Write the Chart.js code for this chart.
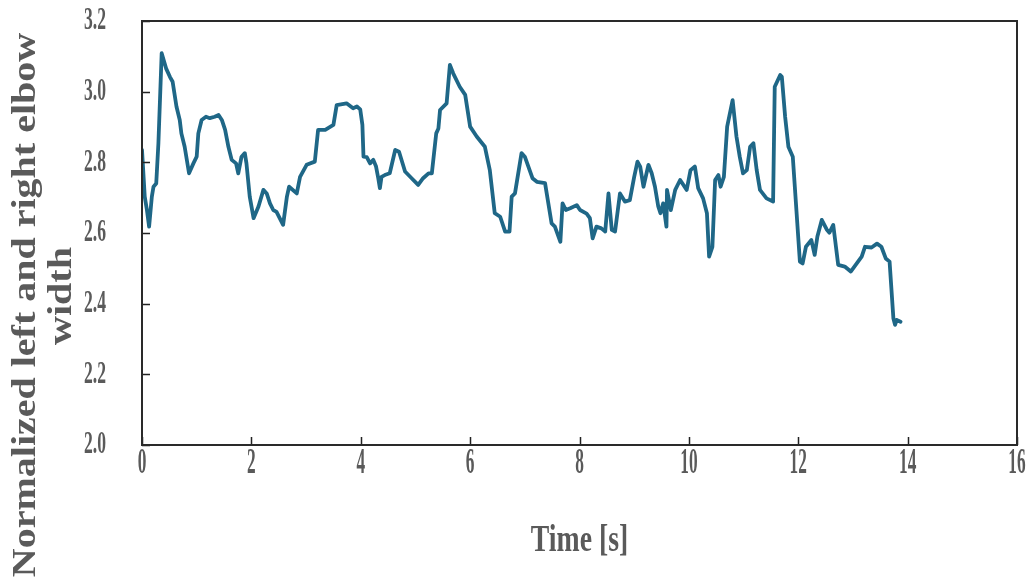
<!DOCTYPE html>
<html>
<head>
<meta charset="utf-8">
<script src="https://cdn.jsdelivr.net/npm/chart.js@4/dist/chart.umd.min.js"></script>
<style>
  html, body { margin: 0; padding: 0; background: #fff; }
  canvas { display: block; }
</style>
</head>
<body>
<canvas id="elbowChart" width="1035" height="584"></canvas>
<script>
// time axis (s) and normalized elbow width
const timeSec = [
  0.00, 0.05, 0.09, 0.13, 0.18, 0.21, 0.26, 0.30, 0.36, 0.44, 0.51, 0.56,
  0.63, 0.69, 0.72, 0.78, 0.86, 0.94, 1.00, 1.03, 1.09, 1.17, 1.24, 1.33,
  1.40, 1.46, 1.52, 1.58, 1.64, 1.72, 1.76, 1.82, 1.88, 1.91, 1.97, 2.04,
  2.13, 2.22, 2.28, 2.34, 2.40, 2.46, 2.58, 2.65, 2.69, 2.83, 2.89, 3.01,
  3.16, 3.22, 3.35, 3.50, 3.56, 3.74, 3.86, 3.93, 3.99, 4.03, 4.05, 4.11,
  4.17, 4.23, 4.28, 4.32, 4.35, 4.38, 4.44, 4.53, 4.63, 4.70, 4.81, 4.93,
  5.05, 5.14, 5.24, 5.30, 5.38, 5.42, 5.45, 5.57, 5.63, 5.69, 5.81, 5.91,
  6.00, 6.12, 6.27, 6.36, 6.45, 6.55, 6.64, 6.72, 6.76, 6.82, 6.94, 7.00,
  7.14, 7.22, 7.37, 7.49, 7.55, 7.65, 7.69, 7.75, 7.83, 7.95, 8.01, 8.13,
  8.19, 8.24, 8.31, 8.40, 8.47, 8.53, 8.59, 8.65, 8.74, 8.83, 8.92, 9.00,
  9.06, 9.11, 9.17, 9.26, 9.32, 9.38, 9.44, 9.48, 9.53, 9.59, 9.60, 9.67,
  9.75, 9.84, 9.96, 10.03, 10.11, 10.17, 10.26, 10.33, 10.37, 10.43, 10.48, 10.54,
  10.58, 10.64, 10.70, 10.80, 10.87, 10.93, 10.99, 11.06, 11.12, 11.18, 11.24, 11.30,
  11.42, 11.54, 11.57, 11.67, 11.70, 11.76, 11.82, 11.90, 12.03, 12.08, 12.14, 12.24,
  12.30, 12.35, 12.43, 12.52, 12.57, 12.64, 12.73, 12.85, 12.96, 13.07, 13.16, 13.22,
  13.34, 13.44, 13.52, 13.60, 13.67, 13.74, 13.77, 13.80, 13.87
];
const elbowWidth = [
  2.835, 2.703, 2.665, 2.618, 2.703, 2.731, 2.740, 2.854, 3.109, 3.066, 3.042, 3.028,
  2.958, 2.920, 2.882, 2.844, 2.769, 2.797, 2.816, 2.882, 2.920, 2.929, 2.925, 2.929,
  2.934, 2.920, 2.892, 2.844, 2.807, 2.797, 2.769, 2.816, 2.826, 2.797, 2.703, 2.642,
  2.675, 2.722, 2.712, 2.684, 2.665, 2.660, 2.623, 2.703, 2.731, 2.712, 2.759, 2.793,
  2.802, 2.892, 2.892, 2.906, 2.962, 2.967, 2.953, 2.958, 2.950, 2.906, 2.816, 2.815,
  2.797, 2.807, 2.788, 2.755, 2.727, 2.759, 2.764, 2.769, 2.835, 2.830, 2.774, 2.755,
  2.736, 2.755, 2.769, 2.769, 2.882, 2.896, 2.948, 2.967, 3.076, 3.052, 3.014, 2.991,
  2.901, 2.873, 2.844, 2.778, 2.656, 2.646, 2.604, 2.604, 2.703, 2.712, 2.826, 2.816,
  2.755, 2.745, 2.741, 2.627, 2.618, 2.575, 2.684, 2.665, 2.670, 2.679, 2.665, 2.655,
  2.642, 2.585, 2.618, 2.613, 2.604, 2.712, 2.609, 2.604, 2.712, 2.689, 2.693, 2.759,
  2.802, 2.788, 2.731, 2.793, 2.769, 2.731, 2.675, 2.656, 2.684, 2.618, 2.722, 2.665,
  2.722, 2.750, 2.722, 2.778, 2.788, 2.727, 2.698, 2.656, 2.533, 2.561, 2.750, 2.764,
  2.731, 2.759, 2.901, 2.976, 2.873, 2.816, 2.769, 2.778, 2.844, 2.854, 2.778, 2.722,
  2.698, 2.689, 3.014, 3.047, 3.042, 2.929, 2.844, 2.816, 2.519, 2.514, 2.561, 2.580,
  2.538, 2.590, 2.637, 2.610, 2.601, 2.623, 2.510, 2.505, 2.491, 2.514, 2.533, 2.561,
  2.559, 2.570, 2.561, 2.528, 2.519, 2.358, 2.340, 2.354, 2.349
];
const xTickLabels = ['0', '2', '4', '6', '8', '10', '12', '14', '16'];
const yTickLabels = ['2.0', '2.2', '2.4', '2.6', '2.8', '3.0', '3.2'];
const xTitle = 'Time [s]';
const yTitle = ['Normalized left and right elbow', 'width'];

const TEXT_COLOR = '#5a5a5a';
const SERIF = '"Liberation Serif", "Times New Roman", serif';

// text in the figure is squeezed sideways, so draw it with a horizontal scale
function drawText(ctx, str, x, y, size, sx, rotate) {
  ctx.save();
  ctx.translate(x, y);
  ctx.scale(sx, 1);
  if (rotate) ctx.rotate(rotate);
  ctx.font = 'bold ' + size + 'px ' + SERIF;
  ctx.fillStyle = TEXT_COLOR;
  ctx.textAlign = 'center';
  ctx.textBaseline = 'middle';
  ctx.fillText(str, 0, 0);
  ctx.restore();
}

const frameAndText = {
  id: 'frameAndText',
  afterDraw(chart) {
    const { ctx, chartArea: a, scales: { x, y } } = chart;
    ctx.save();

    // inward tick marks on left and bottom axes
    ctx.strokeStyle = '#222';
    ctx.lineWidth = 1.5;
    ctx.beginPath();
    xTickLabels.forEach(function (lbl) {
      const px = Math.round(x.getPixelForValue(Number(lbl))) + 0.5;
      ctx.moveTo(px, a.bottom);
      ctx.lineTo(px, a.bottom - 8);
    });
    yTickLabels.forEach(function (lbl) {
      const py = Math.round(y.getPixelForValue(Number(lbl))) + 0.5;
      ctx.moveTo(a.left, py);
      ctx.lineTo(a.left + 8, py);
    });
    ctx.stroke();

    // plot frame
    ctx.strokeStyle = '#2a2a2a';
    ctx.lineWidth = 2;
    ctx.strokeRect(a.left, a.top, a.right - a.left, a.bottom - a.top);
    ctx.restore();

    // tick labels
    xTickLabels.forEach(function (lbl) {
      drawText(ctx, lbl, x.getPixelForValue(Number(lbl)), a.bottom + 19, 36, 0.48);
    });
    yTickLabels.forEach(function (lbl) {
      drawText(ctx, lbl, a.left - 47, y.getPixelForValue(Number(lbl)), 32, 0.55);
    });

    // axis titles
    drawText(ctx, xTitle, (a.left + a.right) / 2, a.bottom + 96, 38, 0.73);
    drawText(ctx, yTitle[0], 26, 305, 40, 0.83, -Math.PI / 2);
    drawText(ctx, yTitle[1], 62, 296, 40, 0.83, -Math.PI / 2);
  }
};

new Chart(document.getElementById('elbowChart'), {
  type: 'line',
  data: {
    datasets: [{
      data: timeSec.map(function (t, i) { return { x: t, y: elbowWidth[i] }; }),
      borderColor: '#1f6787',
      borderWidth: 3.8,
      borderJoinStyle: 'round',
      borderCapStyle: 'round',
      pointRadius: 0,
      tension: 0,
      fill: false
    }]
  },
  options: {
    responsive: false,
    animation: false,
    layout: { padding: { left: 142, top: 21, right: 18, bottom: 139 } },
    scales: {
      x: { type: 'linear', min: 0, max: 16, display: false },
      y: { min: 2.0, max: 3.2, display: false }
    },
    plugins: {
      legend: { display: false },
      tooltip: { enabled: false }
    }
  },
  plugins: [frameAndText]
});
</script>
</body>
</html>
